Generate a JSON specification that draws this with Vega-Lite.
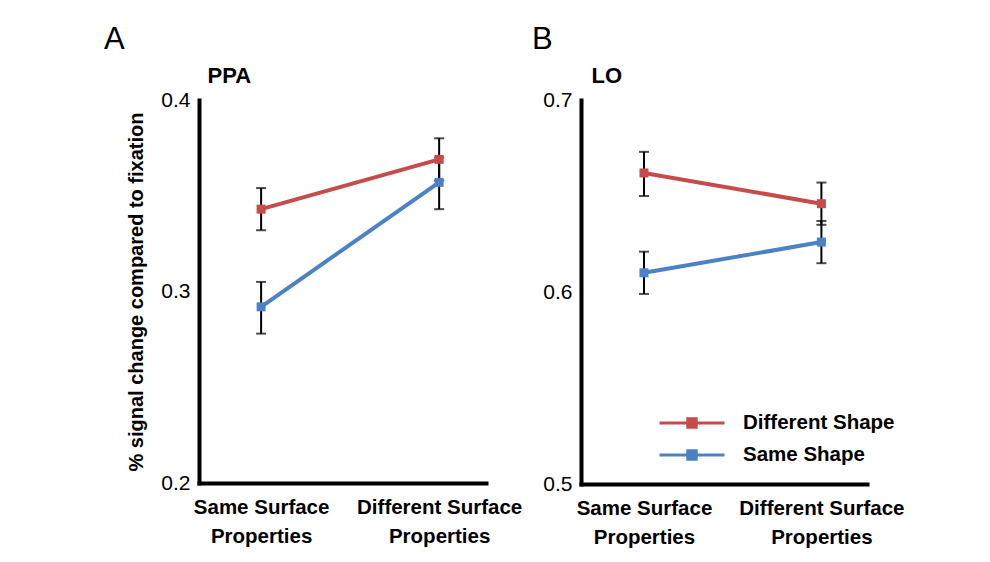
{
  "$schema": "https://vega.github.io/schema/vega-lite/v6.json",
  "background": "white",
  "padding": {"left": 104, "top": 24, "right": 5, "bottom": 5},
  "bounds": "flush",
  "spacing": 95,
  "datasets": {
    "ppa": [
      {"surface": "Same Surface Properties", "shape": "Different Shape", "mean": 0.343, "lo": 0.332, "hi": 0.354},
      {"surface": "Same Surface Properties", "shape": "Same Shape", "mean": 0.292, "lo": 0.278, "hi": 0.305},
      {"surface": "Different Surface Properties", "shape": "Different Shape", "mean": 0.369, "lo": 0.358, "hi": 0.380},
      {"surface": "Different Surface Properties", "shape": "Same Shape", "mean": 0.357, "lo": 0.343, "hi": 0.370}
    ],
    "lo": [
      {"surface": "Same Surface Properties", "shape": "Different Shape", "mean": 0.662, "lo": 0.650, "hi": 0.673},
      {"surface": "Same Surface Properties", "shape": "Same Shape", "mean": 0.610, "lo": 0.599, "hi": 0.621},
      {"surface": "Different Surface Properties", "shape": "Different Shape", "mean": 0.646, "lo": 0.635, "hi": 0.657},
      {"surface": "Different Surface Properties", "shape": "Same Shape", "mean": 0.626, "lo": 0.615, "hi": 0.637}
    ]
  },
  "config": {
    "font": "Liberation Sans",
    "view": {"stroke": null},
    "axis": {
      "domainColor": "black",
      "domainWidth": 4,
      "domainCap": "square",
      "ticks": false,
      "grid": false,
      "labelColor": "black",
      "titleColor": "black"
    },
    "axisY": {
      "labelFontSize": 21,
      "labelFontWeight": "normal",
      "labelPadding": 9,
      "titleFontSize": 20,
      "titleFontWeight": "bold",
      "titlePadding": 14
    },
    "axisX": {
      "labelFontSize": 20.5,
      "labelFontWeight": "bold",
      "labelLineHeight": 29,
      "labelPadding": 14,
      "labelAngle": 0,
      "titleFontSize": 22,
      "titleFontWeight": "bold",
      "titleAlign": "left",
      "titleBaseline": "alphabetic"
    },
    "title": {
      "anchor": "start",
      "frame": "group",
      "fontSize": 31,
      "fontWeight": "normal",
      "color": "black",
      "offset": 8
    }
  },
  "resolve": {"legend": {"color": "independent"}},
  "hconcat": [
    {
      "width": 287,
      "height": 383,
      "data": {"name": "ppa"},
      "title": {"text": "A", "dx": -95},
      "encoding": {
        "x": {
          "field": "surface",
          "type": "nominal",
          "sort": ["Same Surface Properties", "Different Surface Properties"],
          "scale": {"type": "point", "padding": 0.306, "align": 0.57},
          "axis": {
            "title": "PPA",
            "titleX": 8,
            "titleY": -401,
            "labelExpr": "[replace(datum.label, ' Properties', ''), 'Properties']"
          }
        }
      },
      "layer": [
        {
          "mark": {"type": "rule", "color": "black", "strokeWidth": 2},
          "encoding": {
            "y": {"field": "lo", "type": "quantitative", "scale": {"domain": [0.2, 0.4], "nice": false, "zero": false},
                  "axis": {"title": "% signal change compared to fixation", "values": [0.2, 0.3, 0.4], "format": ".1f"}},
            "y2": {"field": "hi"}
          }
        },
        {
          "mark": {"type": "tick", "color": "black", "thickness": 2, "size": 10, "orient": "horizontal"},
          "encoding": {"y": {"field": "lo", "type": "quantitative", "title": "% signal change compared to fixation"}}
        },
        {
          "mark": {"type": "tick", "color": "black", "thickness": 2, "size": 10, "orient": "horizontal"},
          "encoding": {"y": {"field": "hi", "type": "quantitative", "title": "% signal change compared to fixation"}}
        },
        {
          "mark": {"type": "line", "strokeWidth": 4},
          "encoding": {
            "y": {"field": "mean", "type": "quantitative", "title": "% signal change compared to fixation"},
            "color": {"field": "shape", "type": "nominal", "scale": {"domain": ["Different Shape", "Same Shape"], "range": ["#c64b4b", "#4b82c6"]}, "legend": null}
          }
        },
        {
          "mark": {"type": "point", "shape": "square", "filled": true, "size": 81, "opacity": 1},
          "encoding": {
            "y": {"field": "mean", "type": "quantitative", "title": "% signal change compared to fixation"},
            "color": {"field": "shape", "type": "nominal", "scale": {"domain": ["Different Shape", "Same Shape"], "range": ["#c64b4b", "#4b82c6"]}, "legend": null}
          }
        }
      ]
    },
    {
      "width": 286,
      "height": 384,
      "data": {"name": "lo"},
      "title": {"text": "B", "dx": -49},
      "encoding": {
        "x": {
          "field": "surface",
          "type": "nominal",
          "sort": ["Same Surface Properties", "Different Surface Properties"],
          "scale": {"type": "point", "padding": 0.306, "align": 0.58},
          "axis": {
            "title": "LO",
            "titleX": 10,
            "titleY": -402,
            "labelExpr": "[replace(datum.label, ' Properties', ''), 'Properties']"
          }
        }
      },
      "layer": [
        {
          "mark": {"type": "rule", "color": "black", "strokeWidth": 2},
          "encoding": {
            "y": {"field": "lo", "type": "quantitative", "scale": {"domain": [0.5, 0.7], "nice": false, "zero": false},
                  "axis": {"title": null, "values": [0.5, 0.6, 0.7], "format": ".1f"}},
            "y2": {"field": "hi"}
          }
        },
        {
          "mark": {"type": "tick", "color": "black", "thickness": 2, "size": 10, "orient": "horizontal"},
          "encoding": {"y": {"field": "lo", "type": "quantitative", "title": null}}
        },
        {
          "mark": {"type": "tick", "color": "black", "thickness": 2, "size": 10, "orient": "horizontal"},
          "encoding": {"y": {"field": "hi", "type": "quantitative", "title": null}}
        },
        {
          "mark": {"type": "line", "strokeWidth": 4},
          "encoding": {
            "y": {"field": "mean", "type": "quantitative", "title": null},
            "color": {"field": "shape", "type": "nominal", "scale": {"domain": ["Different Shape", "Same Shape"], "range": ["#c64b4b", "#4b82c6"]},
              "legend": {
                "title": null,
                "orient": "none",
                "legendX": 93,
                "legendY": 305,
                "symbolType": "M-2,0L2,0M-0.26,-0.26L0.26,-0.26L0.26,0.26L-0.26,0.26Z",
                "symbolSize": 1056,
                "symbolStrokeWidth": 3,
                "labelFontSize": 20.5,
                "labelFontWeight": "bold",
                "labelColor": "black",
                "labelOffset": 33,
                "rowPadding": 3
              }}
          }
        },
        {
          "mark": {"type": "point", "shape": "square", "filled": true, "size": 81, "opacity": 1},
          "encoding": {
            "y": {"field": "mean", "type": "quantitative", "title": null},
            "color": {"field": "shape", "type": "nominal", "scale": {"domain": ["Different Shape", "Same Shape"], "range": ["#c64b4b", "#4b82c6"]}}
          }
        }
      ]
    }
  ]
}
